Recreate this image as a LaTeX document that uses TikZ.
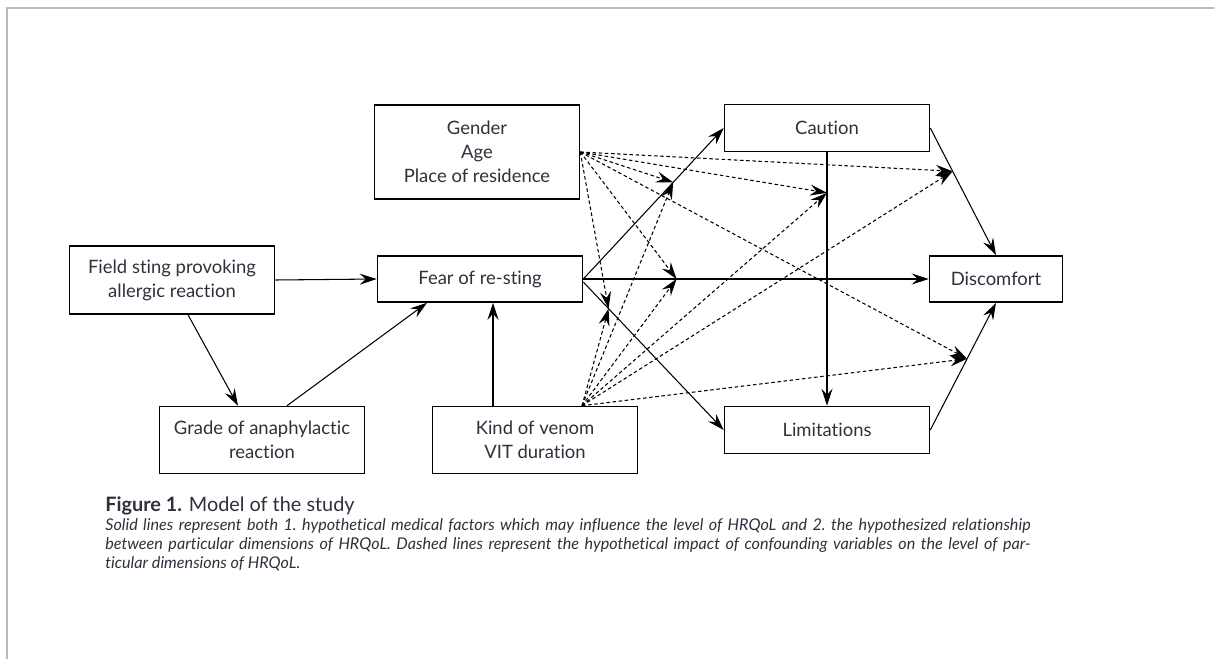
\documentclass[tikz,border=0pt]{standalone}
\usepackage{fontspec}
\setmainfont{Lato}[Ligatures={NoCommon,NoRare}]
\usetikzlibrary{arrows.meta}
\definecolor{ink}{HTML}{30303C}

\begin{document}
\begin{tikzpicture}[x=0.2mm,y=-0.2mm,
    box/.style={draw,line width=0.9pt,minimum width=41mm,align=center,inner sep=0pt,
      text=ink,font=\fontsize{10.5}{13.6}\selectfont},
    link/.style={line width=0.6pt,-{Stealth[length=3.4mm,width=2.2mm,inset=1.2mm]}},
    dashlink/.style={link,dash pattern=on 2pt off 1.5pt}]
  \useasboundingbox (0,0) rectangle (1214,659);
  \draw [black!27,line width=1.2pt] (1214,8) -- (7,8) -- (7,659);

  % boxes
  \node[box,minimum height=18.8mm] (gender) at (477,152) {Gender\\Age\\Place of residence};
  \node[box,minimum height=13.6mm] (field) at (172,280) {Field sting provoking\\allergic reaction};
  \node[box,minimum height=9.2mm] (fear) at (480,279) {Fear of re-sting};
  \node[box,minimum height=13.4mm] (grade) at (262,440) {Grade of anaphylactic\\reaction};
  \node[box,minimum height=13.4mm] (kind) at (535,440) {Kind of venom\\VIT duration};
  \node[box,minimum height=9.4mm] (caution) at (827,128) {Caution};
  \node[box,minimum height=9.4mm] (limits) at (827,430) {Limitations};
  \node[box,minimum height=9.2mm,minimum width=26.6mm] (discomfort) at (996,279) {Discomfort};

  % solid links
  \draw[link] (field.east) -- (fear.west);
  \draw[link] ([xshift=3.2mm]field.south) -- ([xshift=-4.8mm]grade.north);
  \draw[link] ([xshift=5mm]grade.north) -- ([xshift=-10.6mm]fear.south);
  \draw[link] ([xshift=-8.4mm]kind.north) -- ([xshift=-8.4mm]kind.north |- fear.south);
  \draw[link] (fear.east) -- (caution.west) coordinate[pos=0.64] (pFC);
  \draw[link] (fear.east) -- (discomfort.west) coordinate[pos=0.27] (pFD);
  \draw[link] ([yshift=-0.6mm]fear.east) -- (limits.west) coordinate[pos=0.18] (pFL);
  \draw[link] (caution.south) -- (limits.north) coordinate[pos=0.16] (pCL);
  \draw[link] (caution.east) -- (discomfort.north) coordinate[pos=0.34] (pCD);
  \draw[link] (limits.east) -- (discomfort.south) coordinate[pos=0.56] (pLD);

  % confounders
  \coordinate (kv) at ([xshift=9.4mm]kind.north);
  \foreach \t in {pFC,pFD,pFL,pCL,pCD,pLD}
  {
    \draw[dashlink] (gender.east) -- (\t);
    \draw[dashlink] (kv) -- (\t);
  }

  % caption
  \node[anchor=base west,text=ink,font=\fontsize{11.3}{13}\selectfont,inner sep=0pt] (title) at (105,511)
    {\textbf{Figure 1.} Model of the study};
  \node[anchor=north west,text=ink,text width=185mm,align=justify,inner sep=0pt,
    font=\fontsize{9.2}{10.8}\selectfont\itshape] (note) at (105,518)
    {\frenchspacing Solid lines represent both 1. hypothetical medical factors which may influence the level of HRQoL and 2. the hypothesized relationship\linebreak
     between particular dimensions of HRQoL. Dashed lines represent the hypothetical impact of confounding variables on the level of par-\linebreak
     ticular dimensions of HRQoL.};
\end{tikzpicture}
\end{document}
